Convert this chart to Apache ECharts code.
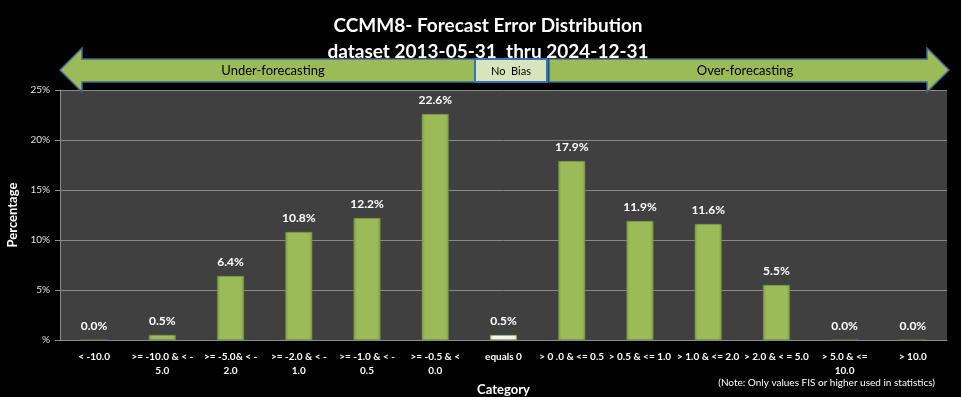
<!DOCTYPE html>
<html><head><meta charset="utf-8">
<script src="https://cdn.jsdelivr.net/npm/echarts@6/dist/echarts.min.js"></script>
<style>html,body{margin:0;padding:0;background:#000;}#c{width:961px;height:397px;}</style>
</head><body><div id="c"></div>
<script>
var categories = ['< -10.0', '>= -10.0 & < -\n5.0', '>= -5.0& < -\n2.0', '>= -2.0 & < -\n1.0', '>= -1.0 & < -\n0.5', '>= -0.5 & <\n0.0', 'equals 0', '> 0 .0 & <= 0.5', '> 0.5 & <= 1.0', '> 1.0 & <= 2.0', '> 2.0 & < = 5.0', '> 5.0 & <=\n10.0', '> 10.0'];
var percentages = [0.0, 0.5, 6.4, 10.8, 12.2, 22.6, 0.5, 17.9, 11.9, 11.6, 5.5, 0.0, 0.0];
var yTicks = [0, 5, 10, 15, 20, 25];
var titleLines = ['CCMM8- Forecast Error Distribution', 'dataset 2013-05-31  thru 2024-12-31'];
var noteText = '(Note: Only values FIS or higher used in statistics)';

var FONT = 'Lato, "Open Sans", sans-serif';
var green = new echarts.graphic.LinearGradient(0, 0, 1, 0, [
  {offset: 0, color: '#7f9c45'}, {offset: 0.12, color: '#9bbb59'},
  {offset: 0.88, color: '#9bbb59'}, {offset: 1, color: '#7f9c45'}]);
var pale = new echarts.graphic.LinearGradient(0, 0, 1, 0, [
  {offset: 0, color: '#c9d6b0'}, {offset: 0.12, color: '#f4f8ec'},
  {offset: 0.88, color: '#f4f8ec'}, {offset: 1, color: '#c9d6b0'}]);

var chart = echarts.init(document.getElementById('c'), null, {renderer: 'canvas'});
var arrowStyle = {fill: '#9bbb59', stroke: '#3f6796', lineWidth: 1.5};
chart.setOption({
  backgroundColor: '#000',
  animation: false,
  title: {
    text: titleLines.join('\n'), left: 483, top: 8, textAlign: 'center',
    textStyle: {color: '#fff', fontFamily: FONT, fontWeight: 'bold', fontSize: 19, lineHeight: 26}
  },
  grid: {left: 60, right: 14, top: 90, bottom: 57, backgroundColor: '#404040', show: true, borderWidth: 0,
    containLabel: false, outerBoundsMode: 'none'},
  xAxis: {
    type: 'category', data: categories,
    name: 'Category', nameLocation: 'middle', nameGap: 40,
    nameTextStyle: {color: '#fff', fontFamily: FONT, fontWeight: 'bold', fontSize: 13},
    axisLine: {lineStyle: {color: '#8c8c8c'}},
    axisTick: {lineStyle: {color: '#8c8c8c'}, length: 5, alignWithLabel: false},
    axisLabel: {interval: 0, color: '#fff', fontFamily: FONT, fontWeight: 'bold', fontSize: 10, lineHeight: 14, margin: 10}
  },
  yAxis: {
    type: 'value', min: 0, max: 25, interval: 5,
    name: 'Percentage', nameLocation: 'middle', nameGap: 38, nameRotate: 90,
    nameTextStyle: {color: '#fff', fontFamily: FONT, fontWeight: 'bold', fontSize: 13},
    axisLine: {show: true, lineStyle: {color: '#8c8c8c'}},
    axisTick: {show: true, length: 5, lineStyle: {color: '#8c8c8c'}},
    splitLine: {lineStyle: {color: '#8a8a8a', width: 1}},
    axisLabel: {color: '#e0e0e0', fontFamily: FONT, fontSize: 10, margin: 10,
      formatter: function (v) { return yTicks.indexOf(v) >= 0 ? (v === 0 ? '%' : v + '%') : ''; }}
  },
  series: [{
    type: 'bar', barWidth: 27,
    data: percentages.map(function (v, i) {
      return {value: v, itemStyle: {color: categories[i] === 'equals 0' ? pale : green}};
    }),
    itemStyle: {borderColor: '#6f8a3c', borderWidth: 0.5},
    label: {show: true, position: 'top', distance: 8, color: '#fff', fontFamily: FONT, fontWeight: 'bold', fontSize: 12,
      formatter: function (p) { return p.value.toFixed(1) + '%'; }}
  }],
  graphic: [
    {type: 'polygon', shape: {points: [[60, 70], [82, 48], [82, 59], [475, 59], [475, 82], [82, 82], [82, 92]]}, style: arrowStyle, z: 10},
    {type: 'polygon', shape: {points: [[949, 70], [927, 48], [927, 59], [549, 59], [549, 82], [927, 82], [927, 92]]}, style: arrowStyle, z: 10},
    {type: 'rect', shape: {x: 475, y: 59, width: 72, height: 23}, style: {fill: '#d8e4bc', stroke: '#2e75b6', lineWidth: 2}, z: 11},
    {type: 'text', x: 273, y: 71, style: {text: 'Under-forecasting', fill: '#000', font: '13px ' + FONT, align: 'center', verticalAlign: 'middle'}, z: 12},
    {type: 'text', x: 511, y: 71, style: {text: 'No  Bias', fill: '#000', font: '11px ' + FONT, align: 'center', verticalAlign: 'middle'}, z: 12},
    {type: 'text', x: 745, y: 71, style: {text: 'Over-forecasting', fill: '#000', font: '13px ' + FONT, align: 'center', verticalAlign: 'middle'}, z: 12},
    {type: 'text', x: 935, y: 383, style: {text: noteText, fill: '#fff', font: '10px ' + FONT, align: 'right', verticalAlign: 'middle'}, z: 12}
  ]
});
</script></body></html>
